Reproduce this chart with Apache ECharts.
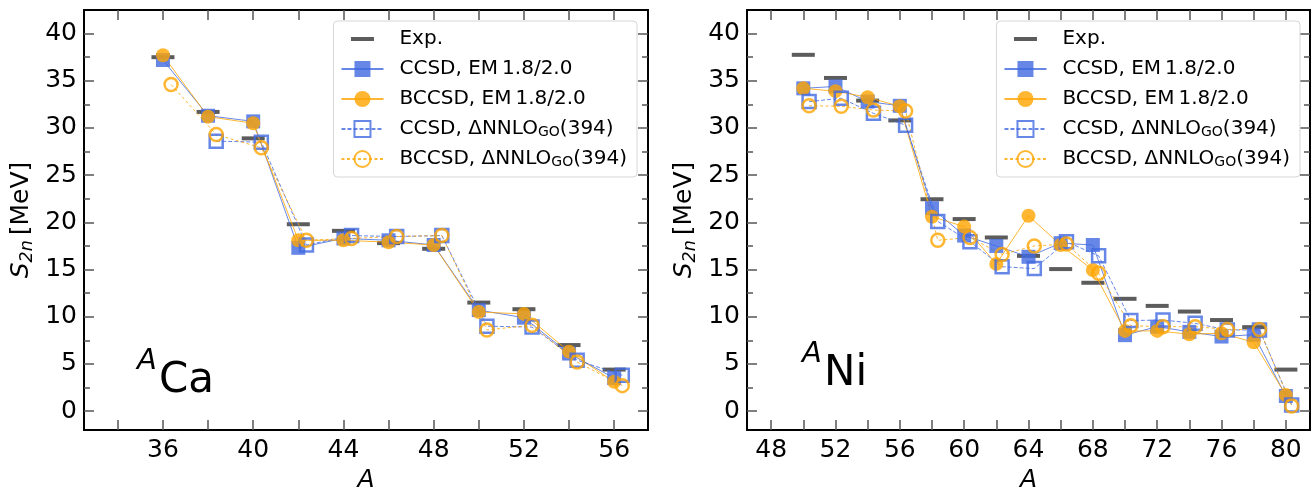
<!DOCTYPE html>
<html>
<head>
<meta charset="utf-8">
<script src="https://cdn.jsdelivr.net/npm/echarts@6/dist/echarts.min.js"></script>
<style>
  html, body { margin: 0; padding: 0; background: #fff; }
  #chart { width: 1312px; height: 489px; }
</style>
</head>
<body>
<div id="chart"></div>
<script>
// ---- data (S2n in MeV) ----
var caA       = [36, 38, 40, 42, 44, 46, 48, 50, 52, 54, 56];
var caExp     = [37.5, 31.7, 28.9, 19.8, 19.1, 17.8, 17.2, 11.5, 10.8, 7.0, 4.4];
var caCcsdEm  = [37.2, 31.3, 30.7, 17.3, 18.3, 18.1, 17.6, 10.7, 9.9, 6.1, 3.5];
var caBccsdEm = [37.7, 31.2, 30.5, 18.1, 18.1, 17.9, 17.6, 10.5, 10.3, 6.3, 3.1];
var caCcsdGo  = [null, 28.6, 28.5, 17.6, 18.6, 18.5, 18.6, 9.0, 8.9, 5.4, 3.8];
var caBccsdGo = [34.6, 29.3, 27.9, 18.1, 18.3, 18.5, 18.6, 8.6, 9.1, 5.2, 2.7];

var niA       = [50, 52, 54, 56, 58, 60, 62, 64, 66, 68, 70, 72, 74, 76, 78, 80];
var niExp     = [37.75, 35.3, 32.9, 30.8, 22.45, 20.35, 18.4, 16.45, 15.05, 13.6, 11.9, 11.15, 10.55, 9.65, 8.9, 4.4];
var niCcsdEm  = [34.2, 34.4, 32.8, 32.35, 21.5, 18.6, 17.5, 16.35, 17.8, 17.6, 8.05, 8.95, 8.4, 7.9, 8.1, 1.6];
var niBccsdEm = [34.2, 33.9, 33.25, 32.3, 20.6, 19.55, 15.6, 20.7, 17.6, 14.95, 8.5, 8.5, 8.15, 8.25, 7.3, 1.7];
var niCcsdGo  = [32.8, 33.15, 31.55, 30.3, 20.1, 17.95, 15.3, 15.1, 17.95, 16.45, 9.6, 9.65, 9.3, 8.6, 8.6, 0.65];
var niBccsdGo = [32.35, 32.3, 31.9, 31.8, 18.1, 18.4, 16.6, 17.5, 17.7, 14.6, 9.05, 8.95, 8.95, 8.65, 8.65, 0.55];

// tick values
var yMajor = [0, 5, 10, 15, 20, 25, 30, 35, 40];
var yMinor = [2.5, 7.5, 12.5, 17.5, 22.5, 27.5, 32.5, 37.5];
var caTicks  = [34, 36, 38, 40, 42, 44, 46, 48, 50, 52, 54, 56];
var caLabels = [36, 40, 44, 48, 52, 56];
var niTicks  = [48, 50, 52, 54, 56, 58, 60, 62, 64, 66, 68, 70, 72, 74, 76, 78, 80];
var niLabels = [48, 52, 56, 60, 64, 68, 72, 76, 80];

var NAMES = ['Exp.', 'CCSD, EM\u20091.8/2.0', 'BCCSD, EM\u20091.8/2.0',
             'CCSD, \u0394NNLO_GO(394)', 'BCCSD, \u0394NNLO_GO(394)'];

// ---- style ----
var FONT = 'DejaVu Sans';
var BLUE = 'rgba(65,105,225,0.8)';
var ORANGE = 'rgba(255,165,0,0.8)';
var BLACK = 'rgba(0,0,0,0.8)';
var TICK = '#555';
var OFFSET = 0.36;   // ΔNNLO points are drawn slightly right of A

function pairs(xs, ys, dx) {
  var out = [];
  for (var i = 0; i < xs.length; i++) {
    if (ys[i] != null) { out.push([xs[i] + dx, ys[i]]); }
  }
  return out;
}

function axisLine() { return { show: true, onZero: false, lineStyle: { color: '#000', width: 2 } }; }

function xAxes(grid, min, max, ticks, labels) {
  var tick = { inside: true, length: 10, customValues: ticks, lineStyle: { color: TICK, width: 1.5 } };
  return [
    { type: 'value', gridIndex: grid, position: 'bottom', min: min, max: max,
      name: 'A', nameLocation: 'middle', nameGap: 23,
      nameTextStyle: { fontFamily: FONT, fontSize: 25, fontStyle: 'italic', color: '#000' },
      axisLine: axisLine(), axisTick: tick,
      axisLabel: { customValues: labels, fontFamily: FONT, fontSize: 25, color: '#000', margin: 8 },
      splitLine: { show: false } },
    { type: 'value', gridIndex: grid, position: 'top', min: min, max: max,
      axisLine: axisLine(), axisTick: tick, axisLabel: { show: false }, splitLine: { show: false } }
  ];
}

function yAxes(grid) {
  function one(pos, values, len, main) {
    var ax = { type: 'value', gridIndex: grid, position: pos, min: -2, max: 42.5,
      axisLine: axisLine(),
      axisTick: { inside: true, length: len, customValues: values, lineStyle: { color: TICK, width: 1.5 } },
      axisLabel: { show: false }, splitLine: { show: false } };
    if (main) {
      ax.axisLabel = { show: true, customValues: yMajor, fontFamily: FONT, fontSize: 25, color: '#000', margin: 7 };
      ax.name = '{i|S}{s|2n}{n|\u2009[MeV]}';
      ax.nameLocation = 'middle';
      ax.nameRotate = 90;
      ax.nameGap = 48;
      ax.nameTextStyle = { color: '#000', rich: {
        i: { fontFamily: FONT, fontSize: 25, fontStyle: 'italic', lineHeight: 30 },
        s: { fontFamily: FONT, fontSize: 17.5, fontStyle: 'italic', lineHeight: 17.5, verticalAlign: 'bottom' },
        n: { fontFamily: FONT, fontSize: 25, lineHeight: 30 }
      } };
    }
    return ax;
  }
  return [one('left', yMajor, 10, true), one('left', yMinor, 6, false),
          one('right', yMajor, 10, false), one('right', yMinor, 6, false)];
}

function panelSeries(xi, yi, A, exp, ccsdEm, bccsdEm, ccsdGo, bccsdGo) {
  var base = { xAxisIndex: xi, yAxisIndex: yi, silent: true };
  function s(o) { return Object.assign({}, base, o); }
  return [
    s({ name: NAMES[0], type: 'scatter', symbol: 'rect', symbolSize: [23, 4],
        itemStyle: { color: BLACK }, data: pairs(A, exp, 0) }),
    s({ name: NAMES[1], type: 'line', symbol: 'rect', symbolSize: 14,
        itemStyle: { color: BLUE }, lineStyle: { color: BLUE, width: 1 }, data: pairs(A, ccsdEm, 0) }),
    s({ name: NAMES[2], type: 'line', symbol: 'circle', symbolSize: 14,
        itemStyle: { color: ORANGE }, lineStyle: { color: ORANGE, width: 1 }, data: pairs(A, bccsdEm, 0) }),
    s({ name: NAMES[3], type: 'line', symbol: 'rect', symbolSize: 13,
        itemStyle: { color: 'transparent', borderColor: BLUE, borderWidth: 2.5 },
        lineStyle: { color: BLUE, width: 1, type: [4, 2] }, data: pairs(A, ccsdGo, OFFSET) }),
    s({ name: NAMES[4], type: 'line', symbol: 'circle', symbolSize: 13,
        itemStyle: { color: 'transparent', borderColor: ORANGE, borderWidth: 2.5 },
        lineStyle: { color: ORANGE, width: 1, type: [3, 2.5] }, data: pairs(A, bccsdGo, OFFSET) })
  ];
}

function legend(right) {
  return {
    orient: 'vertical', right: right, top: 21,
    padding: [8, 10, 8, 7], itemGap: 10, itemWidth: 42, itemHeight: 20,
    selectedMode: false,
    backgroundColor: 'rgba(255,255,255,0.8)', borderColor: '#d6d6d6', borderWidth: 1, borderRadius: 4,
    data: [{ name: NAMES[0], icon: 'path://M0,0L0,0M42,20L42,20M9.5,8L32.5,8L32.5,12L9.5,12Z' },
           NAMES[1], NAMES[2], NAMES[3], NAMES[4]],
    formatter: function (name) {
      var p = name.split('_GO');
      if (p.length > 1) { return '{g| }{n|' + p[0] + '}{s|GO}{n|' + p[1] + '}'; }
      return '{g| }{n|' + name + '}';
    },
    textStyle: { color: '#000', fontFamily: FONT, fontSize: 20, lineHeight: 20, rich: {
      g: { width: 11, fontSize: 20, lineHeight: 20 },
      n: { fontFamily: FONT, fontSize: 20, lineHeight: 20 },
      s: { fontFamily: FONT, fontSize: 14, lineHeight: 14, verticalAlign: 'bottom' }
    } }
  };
}

function label(x, y, sup, main) {
  return [
    { type: 'text', x: x, y: y - 20, silent: true,
      style: { text: sup, fontFamily: FONT, fontSize: 29, fontStyle: 'italic', fill: '#000', verticalAlign: 'middle' } },
    { type: 'text', x: x + 22, y: y, silent: true,
      style: { text: main, fontFamily: FONT, fontSize: 42, fill: '#000', verticalAlign: 'middle' } }
  ];
}

var chart = echarts.init(document.getElementById('chart'));
chart.setOption({
  animation: false,
  backgroundColor: '#fff',
  grid: [
    { left: 84, top: 10, width: 564, height: 420, outerBoundsMode: 'none', containLabel: false },
    { left: 747, top: 10, width: 563, height: 420, outerBoundsMode: 'none', containLabel: false }
  ],
  xAxis: xAxes(0, 32.5, 57.5, caTicks, caLabels).concat(xAxes(1, 46.5, 81.5, niTicks, niLabels)),
  yAxis: yAxes(0).concat(yAxes(1)),
  legend: [legend(675), legend(12)],
  series: panelSeries(0, 0, caA, caExp, caCcsdEm, caBccsdEm, caCcsdGo, caBccsdGo)
    .concat(panelSeries(2, 4, niA, niExp, niCcsdEm, niBccsdEm, niCcsdGo, niBccsdGo)),
  graphic: label(137, 381, 'A', 'Ca').concat(label(802, 374, 'A', 'Ni'))
});
</script>
</body>
</html>
